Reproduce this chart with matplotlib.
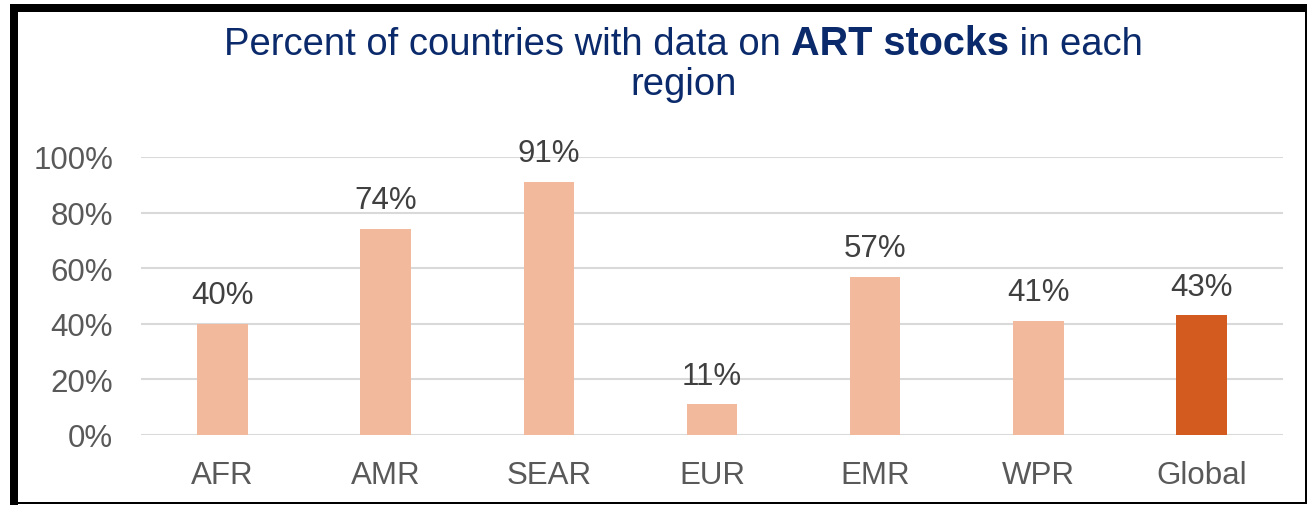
import matplotlib
matplotlib.use("Agg")
import matplotlib.pyplot as plt
from matplotlib.patches import Rectangle

regions = ["AFR", "AMR", "SEAR", "EUR", "EMR", "WPR", "Global"]
percent = [40, 74, 91, 11, 57, 41, 43]
highlight = "Global"

W, H = 1312, 506
DPI = 100
plt.rcParams["font.family"] = ["Liberation Sans", "DejaVu Sans"]

fig = plt.figure(figsize=(W / DPI, H / DPI), dpi=DPI)
fig.patch.set_facecolor("white")


def px_box(x0, y0, x1, y1):
    # pixel box (top-left origin) -> figure fraction rect
    return (x0 / W, 1 - y1 / H), (x1 - x0) / W, (y1 - y0) / H


# outer frame
for x0, y0, x1, y1 in [(10, 5, 1307, 13), (10, 5, 18, 506), (1305, 5, 1307, 505), (10, 503, 1307, 505)]:
    xy, w, h = px_box(x0, y0, x1, y1)
    fig.add_artist(Rectangle(xy, w, h, transform=fig.transFigure, color="black", lw=0))

ax = fig.add_axes([141 / W, 1 - 436 / H, (1283 - 141) / W, (436 - 158) / H])
colors = ["#D45B20" if r == highlight else "#F2B99D" for r in regions]
x = range(len(regions))
bars = ax.bar(x, percent, width=0.31, color=colors, zorder=3)
ax.set_xlim(-0.5, len(regions) - 0.5)
ax.set_ylim(0, 100)
ax.set_yticks(range(0, 101, 20))
ax.set_yticklabels([f"{v}%" for v in range(0, 101, 20)])
ax.set_xticks(list(x))
ax.set_xticklabels(regions)
ax.tick_params(axis="both", length=0, labelsize=22.5, labelcolor="#595959")
ax.tick_params(axis="y", pad=20)
ax.tick_params(axis="x", pad=18)
ax.yaxis.grid(True, color="#D9D9D9", lw=1.5, zorder=0)
for s in ax.spines.values():
    s.set_visible(False)
ax.set_facecolor("none")

for b, v in zip(bars, percent):
    ax.annotate(f"{v}%", (b.get_x() + b.get_width() / 2, v), xytext=(0, 10),
                textcoords="offset points", ha="center", va="bottom",
                fontsize=22.5, color="#404040")

# title with bold run
navy = "#0B2A6B"
parts = [("Percent of countries with data on ", "normal", 27.5), ("ART stocks", "bold", 28.5), (" in each", "normal", 27.5)]
fig.canvas.draw()
r = fig.canvas.get_renderer()
texts = []
total = 0
for s, wgt, fs in parts:
    t = fig.text(0, 1 - 55 / H, s, fontsize=fs, fontweight=wgt, color=navy, va="baseline", ha="left")
    wpx = t.get_window_extent(r).width
    texts.append((t, wpx))
    total += wpx
xpos = 683.5 - total / 2
for t, wpx in texts:
    t.set_x(xpos / W)
    xpos += wpx
fig.text(683.5 / W, 1 - 95 / H, "region", fontsize=27.5, color=navy, va="baseline", ha="center")

fig.savefig("out.png", dpi=DPI)
